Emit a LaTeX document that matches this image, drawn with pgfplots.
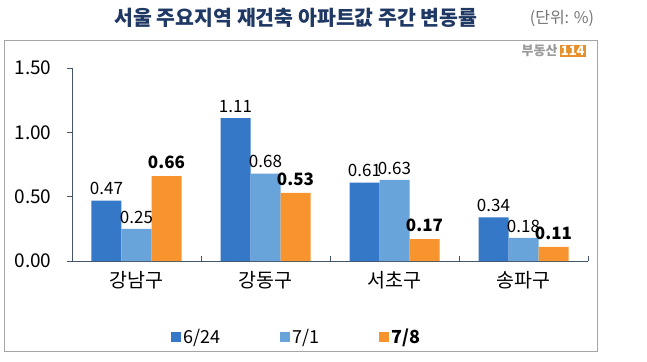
\documentclass[border=0pt]{standalone}
\usepackage{fontspec}
\setmainfont{Noto Sans CJK KR}
\usepackage{pgfplots}
\pgfplotsset{compat=1.18}
\definecolor{cA}{HTML}{3578C8}
\definecolor{cB}{HTML}{68A3DA}
\definecolor{cC}{HTML}{F7942D}
\definecolor{axcol}{HTML}{44546A}
\definecolor{titlecol}{HTML}{1F3864}
\definecolor{logoor}{HTML}{E8902A}
\begin{document}
\begin{tikzpicture}
\useasboundingbox (-72pt,-100pt) rectangle (575pt,261pt);
\draw[black!35, line width=1pt] (-67pt,220pt) rectangle (525pt,-90pt);
\node[font=\fontsize{20.5}{24}\selectfont\bfseries, text=titlecol] at (224pt,243pt) {서울 주요지역 재건축 아파트값 주간 변동률};
\node[font=\fontsize{16}{19}\selectfont, text=black!55] at (490pt,243pt) {(단위: \%)};
\node[anchor=east, inner sep=0pt, font=\fontsize{13}{14}\selectfont\bfseries] at (514pt,210pt) {\textcolor{black!40}{부동산}\,{\fboxsep=1.2pt\colorbox{logoor}{\textcolor{white}{114}}}};
\begin{axis}[
  scale only axis, width=516pt, height=193pt,
  at={(0pt,0pt)}, anchor=south west,
  ymin=0, ymax=1.5, xmin=-0.5, xmax=3.5,
  ybar=0pt, bar width=30pt,
  axis lines=left,
  axis line style={-, draw=axcol, line width=0.9pt},
  tick align=outside,
  major tick length=5pt,
  tick style={draw=axcol, line width=0.8pt},
  xtick style={yshift=5pt},
  ytick={0,0.5,1,1.5},
  yticklabels={0.00,0.50,1.00,1.50},
  yticklabel style={font=\fontsize{19}{22}\selectfont, xshift=-12pt},
  xtick={0.5,1.5,2.5,3.5},
  xticklabels={},
  extra x ticks={0,1,2,3},
  extra x tick labels={강남구,강동구,서초구,송파구},
  extra x tick style={major tick length=0pt, tick label style={font=\fontsize{19.5}{22}\selectfont, yshift=-7pt}},
  /pgf/number format/assume math mode=true,
  /pgf/number format/fixed, /pgf/number format/fixed zerofill, /pgf/number format/precision=2,
  nodes near coords,
  nodes near coords style={font=\fontsize{17}{20}\selectfont, yshift=2pt},
  legend image code/.code={\fill[#1] (0pt,-5pt) rectangle (10pt,5pt);},
  legend columns=3,
  legend style={draw=none, fill=none, inner sep=0pt, at={(0,0)}, anchor=west, xshift=99pt, yshift=-76pt,
    font=\fontsize{18}{21}\selectfont,
    /tikz/every even column/.append style={column sep=58pt}},
]
\addplot[fill=cA, draw=none] coordinates {(0,0.47) (1,1.11) (2,0.61) (3,0.34)};
\addplot[fill=cB, draw=none] coordinates {(0,0.25) (1,0.68) (2,0.63) (3,0.18)};
\addplot[fill=cC, draw=none, nodes near coords style={font=\fontsize{17}{20}\selectfont\bfseries, yshift=2pt}] coordinates {(0,0.66) (1,0.53) (2,0.17) (3,0.11)};
\legend{6/24,7/1,\textbf{7/8}}
\end{axis}
\end{tikzpicture}
\end{document}
